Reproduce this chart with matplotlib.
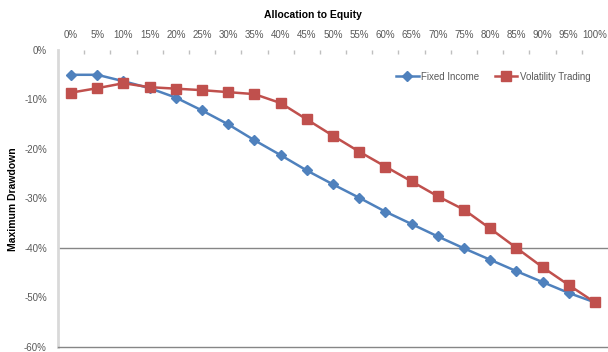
import matplotlib.pyplot as plt
from matplotlib.ticker import FixedLocator

# allocation to equity (category axis)
alloc = ["0%", "5%", "10%", "15%", "20%", "25%", "30%", "35%", "40%", "45%", "50%",
         "55%", "60%", "65%", "70%", "75%", "80%", "85%", "90%", "95%", "100%"]

# maximum drawdown, in percent
fixed_income = [-5.1, -5.1, -6.4, -7.8, -9.7, -12.3, -15.1, -18.3, -21.3, -24.4, -27.2,
                -29.9, -32.7, -35.2, -37.7, -40.1, -42.4, -44.7, -46.9, -49.1, -51.0]
vol_trading = [-8.7, -7.8, -6.8, -7.6, -7.9, -8.2, -8.6, -9.0, -10.8, -14.1, -17.4,
               -20.6, -23.6, -26.6, -29.6, -32.3, -36.1, -40.0, -43.9, -47.5, -51.0]

blue = "#4F81BD"
red = "#C0504D"
txt = "#595959"

plt.rcParams["font.family"] = ["Liberation Sans", "DejaVu Sans"]

fig = plt.figure(figsize=(6.08, 3.52), dpi=100)
ax = fig.add_axes([58 / 608, 5 / 352, 550 / 608, 297.5 / 352])

x = list(range(len(alloc)))
ax.plot(x, fixed_income, color=blue, lw=1.8, marker="D", ms=5,
        label="Fixed Income")
ax.plot(x, vol_trading, color=red, lw=1.8, marker="s", ms=7,
        label="Volatility Trading")

ax.set_xlim(-0.5, len(alloc) - 0.5)
ax.set_ylim(-60, 0)

# category axis drawn along the top (0% line)
ax.xaxis.set_ticks_position("top")
ax.xaxis.set_label_position("top")
ax.set_xticks(x)
ax.set_xticklabels(alloc, fontsize=7, color=txt)
ax.tick_params(axis="x", which="major", length=0, pad=6.5)
ax.xaxis.set_minor_locator(FixedLocator([i + 0.5 for i in range(len(alloc) - 1)]))
ax.tick_params(axis="x", which="minor", direction="in", length=3, width=1,
               color="#BFBFBF", top=True)
ax.set_xlabel("Allocation to Equity", fontsize=7.5, fontweight="bold")
ax.xaxis.set_label_coords((313 - 58) / 550, 1 + 32 / 297.5)

ax.set_yticks(range(-60, 1, 10))
ax.set_yticklabels([f"{v}%" for v in range(-60, 1, 10)], fontsize=7, color=txt)
ax.tick_params(axis="y", length=0, pad=8)
ax.set_ylabel("Maximum Drawdown", fontsize=7.5, fontweight="bold")
ax.yaxis.set_label_coords(-40 / 550, (348 - 200) / 297.5)

for s in ["top", "right"]:
    ax.spines[s].set_visible(False)
ax.spines["left"].set_color("#D9D9D9")
ax.spines["left"].set_linewidth(2)
ax.spines["bottom"].set_color("#868686")
ax.spines["bottom"].set_linewidth(1)
ax.axhline(-40, color="#868686", lw=1, zorder=0)

ax.legend(loc="upper right", bbox_to_anchor=(0.985, 0.955), ncol=2, frameon=False,
          fontsize=7, handlelength=2.3, columnspacing=1.6, handletextpad=0.3,
          labelcolor=txt)

fig.savefig("out.png", dpi=100)
